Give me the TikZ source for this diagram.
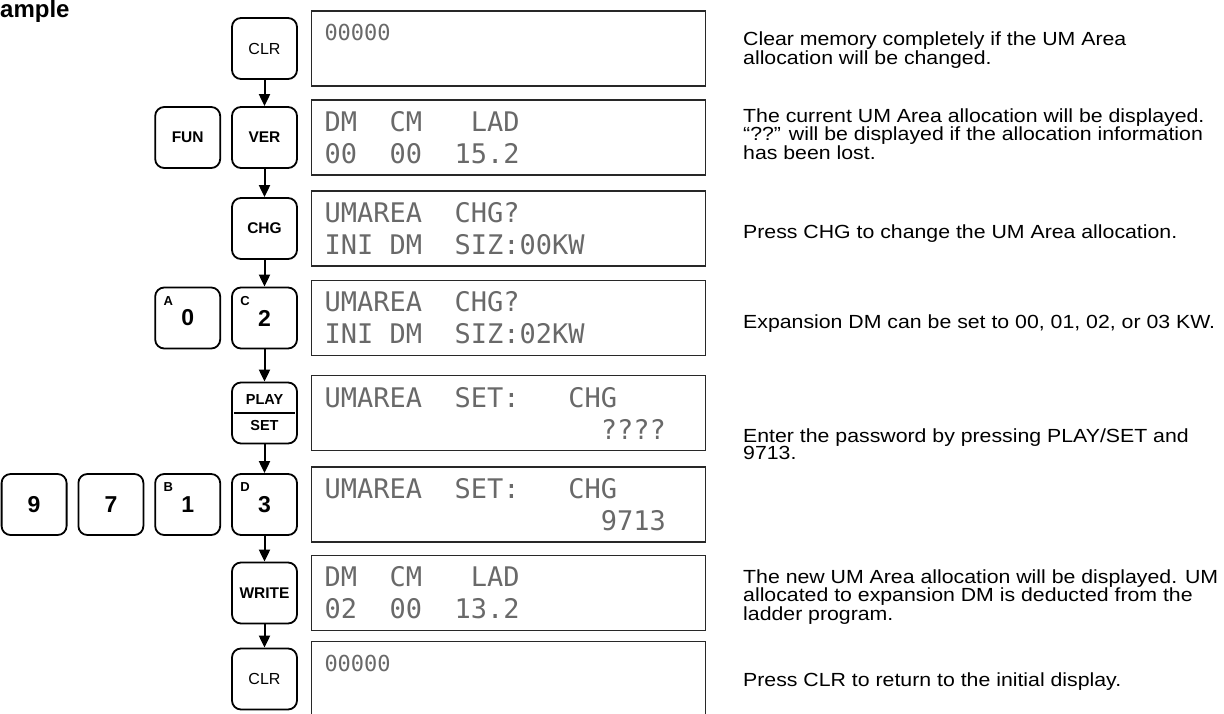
\documentclass[tikz,border=0pt]{standalone}
\usepackage{fontspec}
\setmainfont{Liberation Sans}
\newfontfamily\lcdfont{DejaVu Sans Mono}
\newfontfamily\notefont[FakeStretch=1.12]{Liberation Sans}
\usetikzlibrary{arrows.meta, positioning}
\definecolor{LcdFrame}{RGB}{40, 40, 40}
\definecolor{LcdDots}{RGB}{105, 105, 105}
\newcommand\lcdgap[1]{\hspace*{#1\fontcharwd\font`0}}

\begin{document}
\begin{tikzpicture}[x=1pt, y=-1pt,
        key/.style={draw, line width=1.8pt, rounded corners=9pt, minimum width=65pt, minimum height=61pt, inner sep=0pt, font=\fontsize{16}{18}\selectfont},
        fkey/.style={key, font=\fontsize{15.5}{18}\selectfont\bfseries},
        nkey/.style={key, font=\fontsize{23}{24}\selectfont\bfseries},
        letter/.style={inner sep=0pt, font=\fontsize{13}{13}\selectfont\bfseries},
        lcd/.style={draw=LcdFrame, line width=1.2pt, minimum width=394pt, minimum height=75pt, text width=368pt, inner xsep=13pt, inner ysep=0pt, align=left, text=LcdDots, font=\lcdfont\fontsize{27}{32}\selectfont},
        note/.style={inner sep=0pt, anchor=west, align=left, font=\notefont\fontsize{19}{17.5}\selectfont},
        flow/.style={line width=2pt, -{Triangle[length=12pt, width=11pt]}}
    ]
        \useasboundingbox (0,0) rectangle (1224,713);
        \node[anchor=base west, inner sep=0pt, font=\fontsize{24}{24}\selectfont\bfseries] (title) at (0,17) {ample};

        % key column
        \node[key] (clr) at (264.5,48.5) {CLR};
        \node[fkey] (ver) at (264.5,137.5) {VER};
        \node[fkey, left=10pt of ver] (fun) {FUN};
        \node[fkey] (chg) at (264.5,228.5) {CHG};
        \node[nkey] (k2) at (264.5,318) {2};
        \node[nkey, left=10pt of k2] (k0) {0};
        \node[key, align=center, font=\fontsize{14.5}{26}\selectfont\bfseries] (playset) at (264.5,413) {PLAY\\SET};
        \draw[line width=1.6pt] ([xshift=3pt]playset.west) -- ([xshift=-3pt]playset.east);
        \node[nkey] (k3) at (264.5,504.5) {3};
        \node[nkey, left=10pt of k3] (k1) {1};
        \node[nkey, left=10pt of k1] (k7) {7};
        \node[nkey, left=10pt of k7] (k9) {9};
        \node[fkey] (write) at (264.5,593) {WRITE};
        \node[key] (clrend) at (264.5,679) {CLR};

        \node[letter] (k0l) at ([shift={(14,14)}]k0.north west) {A};
        \node[letter] (k2l) at ([shift={(14,14)}]k2.north west) {C};
        \node[letter] (k1l) at ([shift={(14,14)}]k1.north west) {B};
        \node[letter] (k3l) at ([shift={(14,14)}]k3.north west) {D};

        \draw[flow] (clr) -- (ver);
        \draw[flow] (ver) -- (chg);
        \draw[flow] (chg) -- (k2);
        \draw[flow] (k2) -- (playset);
        \draw[flow] (playset) -- (k3);
        \draw[flow] (k3) -- (write);
        \draw[flow] (write) -- (clrend);

        % displays
        \node[lcd, right=13pt of clr] (d1) {\fontsize{22}{49}\selectfont 00000\\\mbox{}};
        \node[lcd, right=13pt of ver] (d2) {DM\lcdgap{2}CM\lcdgap{3}LAD\\00\lcdgap{2}00\lcdgap{2}15.2};
        \node[lcd, right=13pt of chg] (d3) {UMAREA\lcdgap{2}CHG?\\INI\lcdgap{1}DM\lcdgap{2}SIZ:00KW};
        \node[lcd, right=13pt of k2] (d4) {UMAREA\lcdgap{2}CHG?\\INI\lcdgap{1}DM\lcdgap{2}SIZ:02KW};
        \node[lcd, right=13pt of playset] (d5) {UMAREA\lcdgap{2}SET:\lcdgap{3}CHG\\\lcdgap{17}????};
        \node[lcd, right=13pt of k3] (d6) {UMAREA\lcdgap{2}SET:\lcdgap{3}CHG\\\lcdgap{17}9713};
        \node[lcd, right=13pt of write] (d7) {DM\lcdgap{2}CM\lcdgap{3}LAD\\02\lcdgap{2}00\lcdgap{2}13.2};
        \node[lcd, right=13pt of clrend] (d8) {\fontsize{22}{49}\selectfont 00000\\\mbox{}};

        % notes
        \node[note] (n1) at (743,50) {Clear memory completely if the UM Area\\allocation will be changed.};
        \node[note] (n2) at (743,134) {The current UM Area allocation will be displayed.\\“??” will be displayed if the allocation information\\has been lost.};
        \node[note] (n3) at (743,234) {Press CHG to change the UM Area allocation.};
        \node[note] (n4) at (743,324) {Expansion DM can be set to 00, 01, 02, or 03 KW.};
        \node[note] (n5) at (743,444) {Enter the password by pressing PLAY/SET and\\9713.};
        \node[note] (n6) at (743,597) {The new UM Area allocation will be displayed. UM\\allocated to expansion DM is deducted from the\\ladder program.};
        \node[note] (n7) at (743,682) {Press CLR to return to the initial display.};
    \end{tikzpicture}
\end{document}
